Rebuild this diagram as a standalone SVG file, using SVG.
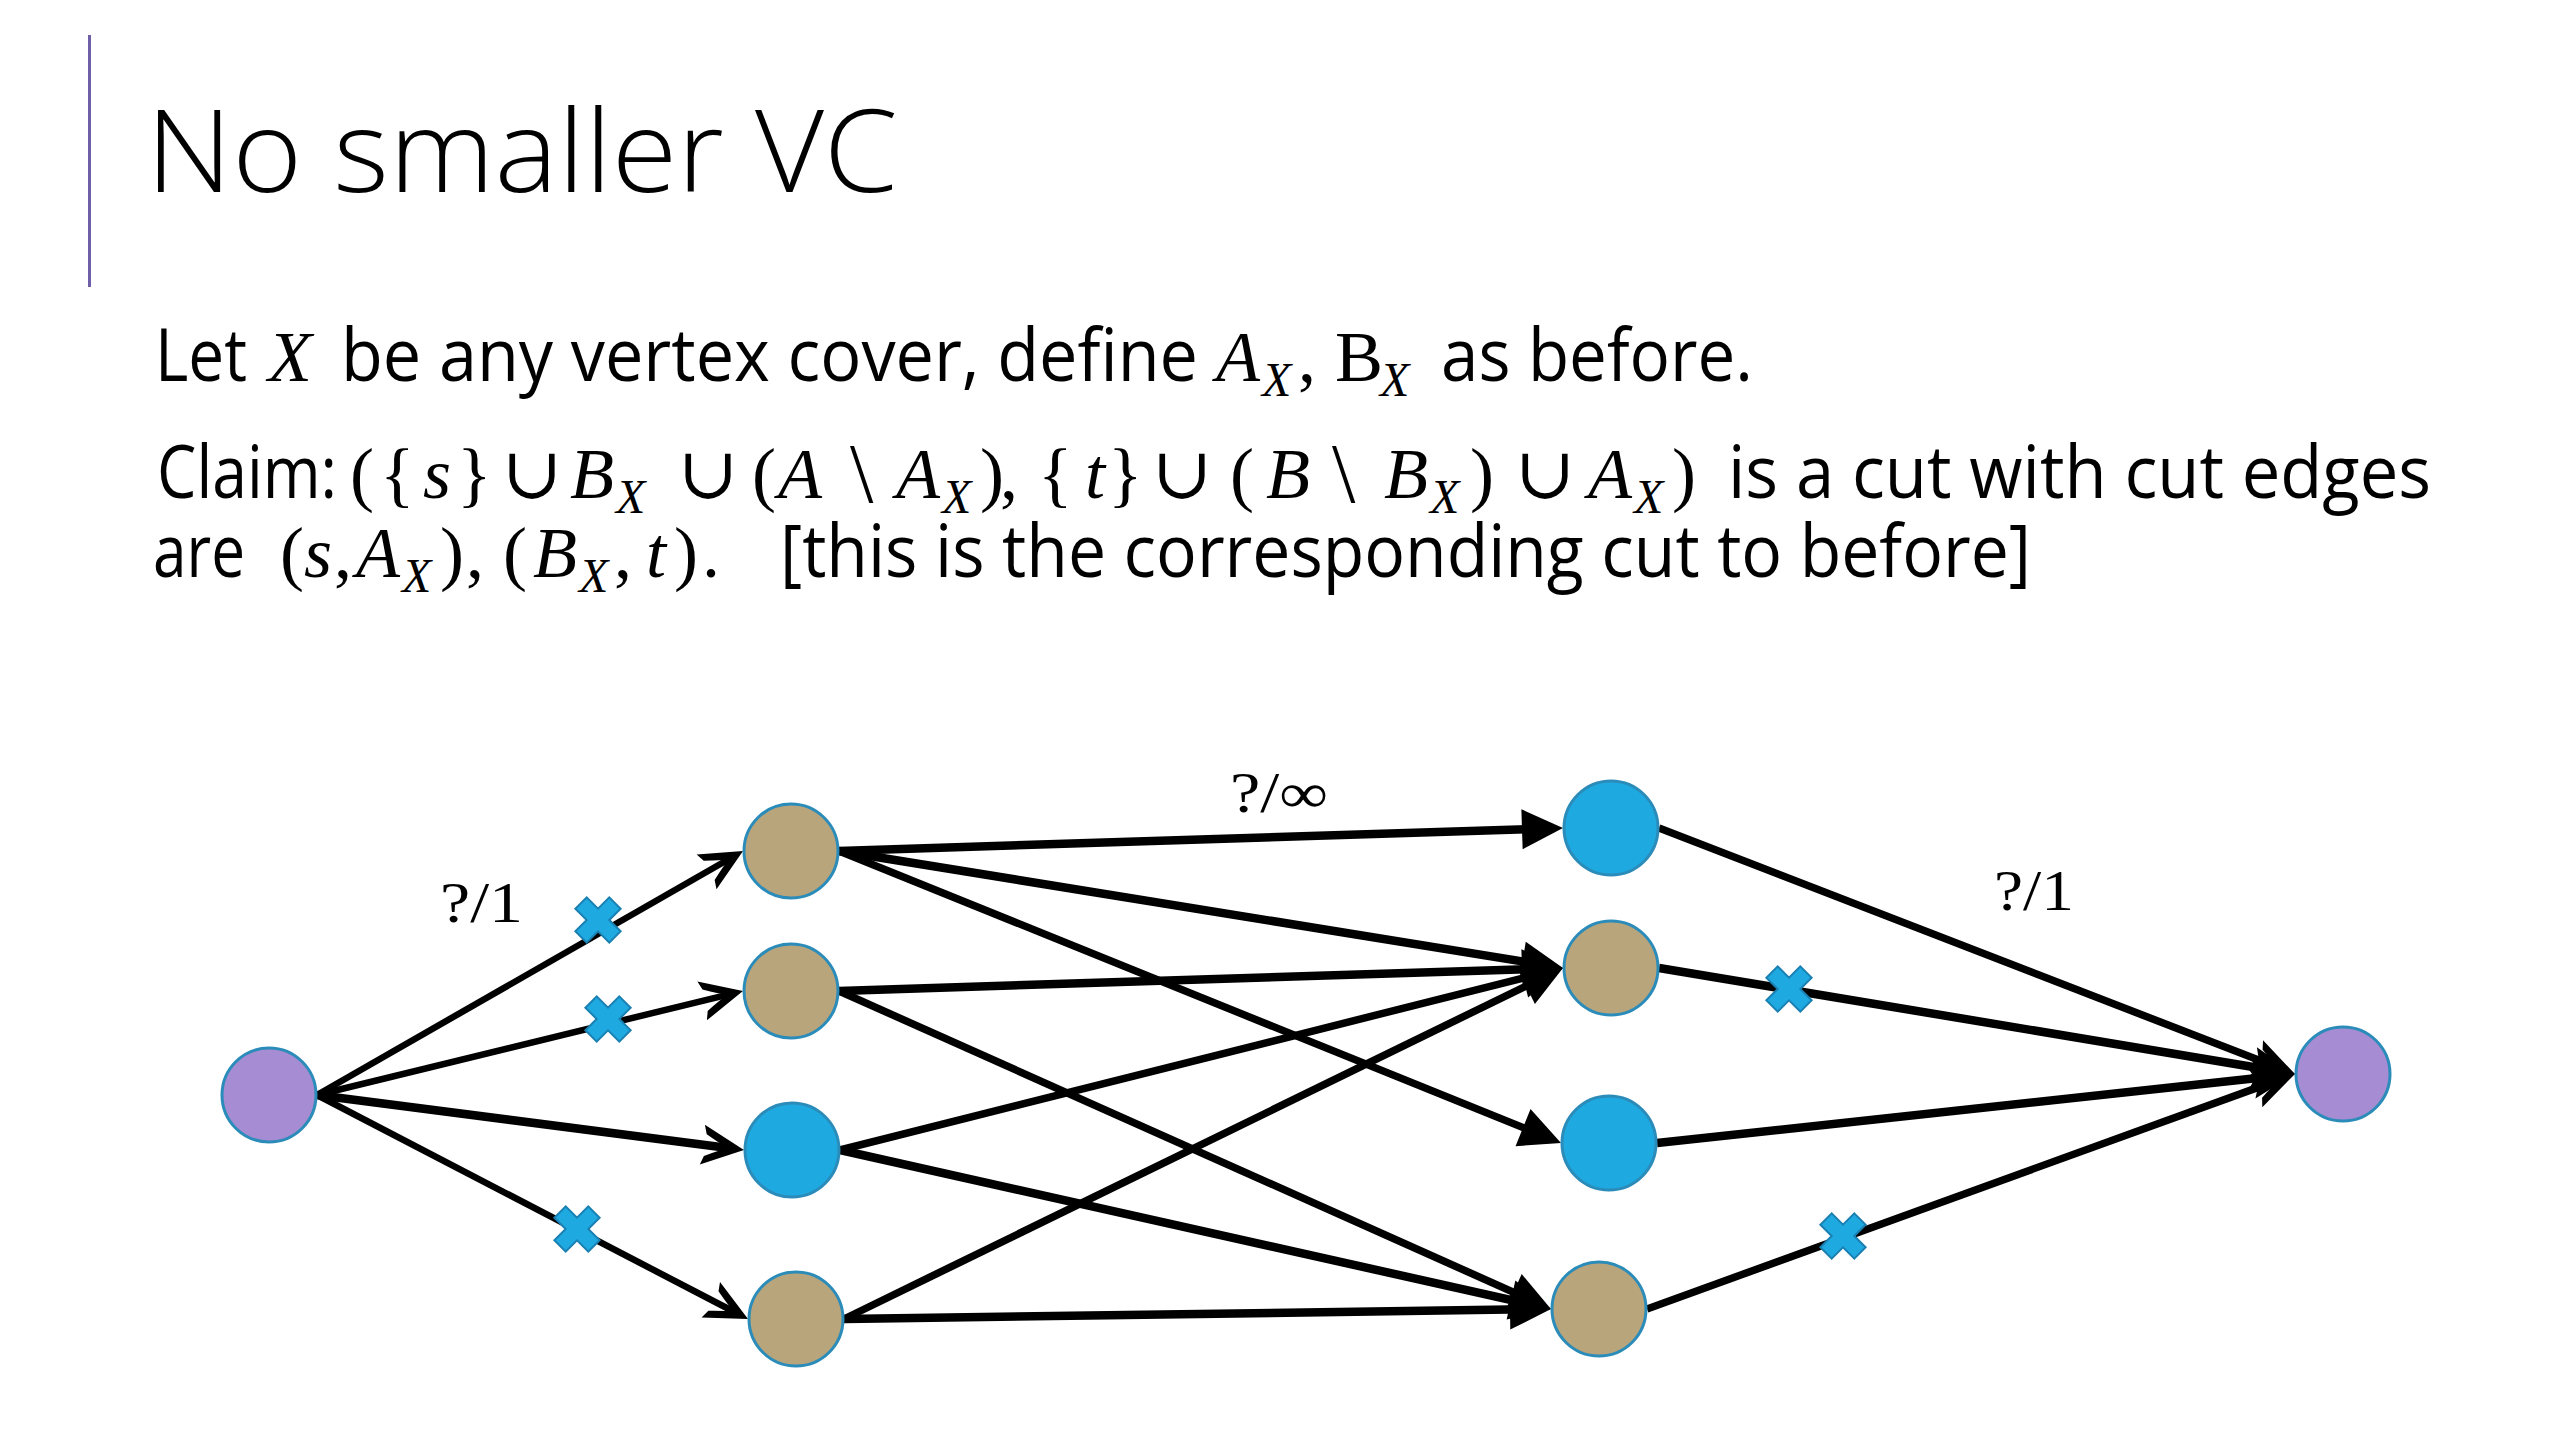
<svg xmlns="http://www.w3.org/2000/svg" width="2560" height="1440" viewBox="0 0 2560 1440">
<defs>
<style>
.title{font-family:"Open Sans","Noto Sans","DejaVu Sans",sans-serif;font-size:115px;font-weight:300;fill:#000}
.sans{font-family:"Open Sans","Noto Sans","DejaVu Sans",sans-serif;font-size:74px;fill:#000}
.m{font-family:"Liberation Serif","DejaVu Serif",serif;font-size:72px;fill:#000}
.mi{font-style:italic}
.sub{font-size:48px;font-style:italic}
.bs{font-size:84px}
.lbl{font-family:"Liberation Serif","DejaVu Serif",serif;font-size:56px;fill:#000}
.edge{stroke:#000;stroke-width:7.5;fill:none}
.thin{stroke-width:6.5}
.thick{stroke-width:8.5}
.node circle{stroke:#2B8CBA;stroke-width:3}
.tan{fill:#B9A57B}
.blue{fill:#1EAAE1}
.purple{fill:#A68CD2}
.cut{fill:#1EAAE1;stroke:#1A80B2;stroke-width:2}
</style>
<marker id="tri" markerUnits="userSpaceOnUse" viewBox="-30 -30 60 60" markerWidth="60" markerHeight="60" refX="0" refY="0" orient="auto" overflow="visible">
<path d="M20,0 L-21,-20 L-21,20 Z" fill="#000"/>
</marker>
<marker id="barb" markerUnits="userSpaceOnUse" viewBox="-30 -30 60 60" markerWidth="60" markerHeight="60" refX="0" refY="0" orient="auto" overflow="visible">
<path d="M12,0 L-30,-20 L-27,-11 Q-12,-3 -4,0 Q-12,3 -27,11 L-30,20 Z" fill="#000"/>
</marker>
<path id="xm" class="cut" transform="rotate(45)" d="M-8,-24 H8 V-8 H24 V8 H8 V24 H-8 V8 H-24 V-8 H-8 Z"/>
</defs>
<rect width="2560" height="1440" fill="#fff"/>

<g id="header">
<rect x="88" y="35" width="3" height="252" fill="#6F5FA8"/>
<text class="title" x="146" y="192" textLength="752" lengthAdjust="spacingAndGlyphs">No smaller VC</text>
</g>

<g id="body-text">
<text class="sans" x="155" y="381" textLength="92" lengthAdjust="spacingAndGlyphs">Let</text>
<text class="m"><tspan class="mi" x="268" y="381">X</tspan></text>
<text class="sans" x="341" y="381" textLength="857" lengthAdjust="spacingAndGlyphs">be any vertex cover, define</text>
<text class="m"><tspan class="mi" x="1216" y="381">A</tspan><tspan class="sub" x="1262" y="396">X</tspan><tspan x="1298" y="381">,</tspan><tspan x="1335" y="381">B</tspan><tspan class="sub" x="1380" y="396">X</tspan></text>
<text class="sans" x="1441" y="381" textLength="312" lengthAdjust="spacingAndGlyphs">as before.</text>

<text class="sans" x="157" y="498" textLength="180" lengthAdjust="spacingAndGlyphs">Claim:</text>
<text class="m"><tspan x="350" y="498">(</tspan><tspan x="380" y="498">{</tspan><tspan class="mi" x="423" y="498">s</tspan><tspan x="457" y="498">}</tspan><tspan x="502" y="498">∪</tspan><tspan class="mi" x="570" y="498">B</tspan><tspan class="sub" x="616" y="513">X</tspan><tspan x="678" y="498">∪</tspan><tspan x="752" y="498">(</tspan><tspan class="mi" x="778" y="498">A</tspan><tspan class="bs" x="850" y="502">\</tspan><tspan class="mi" x="896" y="498">A</tspan><tspan class="sub" x="942" y="513">X</tspan><tspan x="980" y="498">)</tspan><tspan x="1000" y="498">,</tspan><tspan x="1038" y="498">{</tspan><tspan class="mi" x="1085" y="498">t</tspan><tspan x="1108" y="498">}</tspan><tspan x="1152" y="498">∪</tspan><tspan x="1230" y="498">(</tspan><tspan class="mi" x="1266" y="498">B</tspan><tspan class="bs" x="1332" y="502">\</tspan><tspan class="mi" x="1384" y="498">B</tspan><tspan class="sub" x="1430" y="513">X</tspan><tspan x="1470" y="498">)</tspan><tspan x="1515" y="498">∪</tspan><tspan class="mi" x="1588" y="498">A</tspan><tspan class="sub" x="1634" y="513">X</tspan><tspan x="1672" y="498">)</tspan></text>
<text class="sans" x="1728" y="498" textLength="703" lengthAdjust="spacingAndGlyphs">is a cut with cut edges</text>

<text class="sans" x="153" y="577" textLength="92" lengthAdjust="spacingAndGlyphs">are</text>
<text class="m"><tspan x="280" y="577">(</tspan><tspan class="mi" x="304" y="577">s</tspan><tspan x="334" y="577">,</tspan><tspan class="mi" x="356" y="577">A</tspan><tspan class="sub" x="402" y="592">X</tspan><tspan x="440" y="577">)</tspan><tspan x="466" y="577">,</tspan><tspan x="503" y="577">(</tspan><tspan class="mi" x="533" y="577">B</tspan><tspan class="sub" x="579" y="592">X</tspan><tspan x="614" y="577">,</tspan><tspan class="mi" x="646" y="577">t</tspan><tspan x="674" y="577">)</tspan><tspan x="702" y="577">.</tspan></text>
<text class="sans" x="780" y="577" textLength="1251" lengthAdjust="spacingAndGlyphs">[this is the corresponding cut to before]</text>
</g>

<g id="connectors">
<line class="edge thin" x1="317" y1="1095" x2="732.6" y2="857.0" marker-end="url(#barb)"/>
<line class="edge thin" x1="317" y1="1095" x2="731.3" y2="993.8" marker-end="url(#barb)"/>
<line class="edge thick" x1="317" y1="1095" x2="732.1" y2="1148.5" marker-end="url(#barb)"/>
<line class="edge thin" x1="317" y1="1095" x2="737.4" y2="1313.5" marker-end="url(#barb)"/>

<line class="edge thick" x1="839" y1="851" x2="1543.0" y2="828.6" marker-end="url(#tri)"/>
<line class="edge thick" x1="839" y1="851" x2="1543.3" y2="964.8" marker-end="url(#tri)"/>
<line class="edge" x1="839" y1="851" x2="1542.5" y2="1135.5" marker-end="url(#tri)"/>
<line class="edge thick" x1="839" y1="991" x2="1543.0" y2="968.6" marker-end="url(#tri)"/>
<line class="edge" x1="839" y1="991" x2="1532.7" y2="1300.8" marker-end="url(#tri)"/>
<line class="edge" x1="840" y1="1150" x2="1543.6" y2="972.9" marker-end="url(#tri)"/>
<line class="edge thick" x1="840" y1="1150" x2="1531.5" y2="1304.6" marker-end="url(#tri)"/>
<line class="edge" x1="844" y1="1319" x2="1545.0" y2="976.8" marker-end="url(#tri)"/>
<line class="edge thick" x1="844" y1="1319" x2="1531.0" y2="1309.3" marker-end="url(#tri)"/>

<line class="edge" x1="1659" y1="828" x2="2283.8" y2="1069.7" marker-end="url(#barb)"/>
<line class="edge thick" x1="1659" y1="968" x2="2283.2" y2="1072.0" marker-end="url(#barb)"/>
<line class="edge thick" x1="1657" y1="1143" x2="2283.1" y2="1075.3" marker-end="url(#barb)"/>
<line class="edge" x1="1647" y1="1309" x2="2283.7" y2="1078.1" marker-end="url(#barb)"/>
</g>

<g id="cut-marks">
<use href="#xm" x="598" y="920"/>
<use href="#xm" x="608" y="1019"/>
<use href="#xm" x="577" y="1229"/>
<use href="#xm" x="1789" y="989"/>
<use href="#xm" x="1843" y="1236"/>
</g>

<g id="edge-labels">
<text class="lbl" x="440" y="922" textLength="83" lengthAdjust="spacingAndGlyphs">?/1</text>
<text class="lbl" x="1230" y="812" textLength="98" lengthAdjust="spacingAndGlyphs">?/∞</text>
<text class="lbl" x="1994" y="910" textLength="80" lengthAdjust="spacingAndGlyphs">?/1</text>
</g>

<g id="node-s" class="node"><circle class="purple" cx="269" cy="1095" r="47"/></g>
<g id="node-a1" class="node"><circle class="tan" cx="791" cy="851" r="47"/></g>
<g id="node-a2" class="node"><circle class="tan" cx="791" cy="991" r="47"/></g>
<g id="node-a3" class="node"><circle class="blue" cx="792" cy="1150" r="47"/></g>
<g id="node-a4" class="node"><circle class="tan" cx="796" cy="1319" r="47"/></g>
<g id="node-b1" class="node"><circle class="blue" cx="1611" cy="828" r="47"/></g>
<g id="node-b2" class="node"><circle class="tan" cx="1611" cy="968" r="47"/></g>
<g id="node-b3" class="node"><circle class="blue" cx="1609" cy="1143" r="47"/></g>
<g id="node-b4" class="node"><circle class="tan" cx="1599" cy="1309" r="47"/></g>
<g id="node-t" class="node"><circle class="purple" cx="2343" cy="1074" r="47"/></g>
</svg>
